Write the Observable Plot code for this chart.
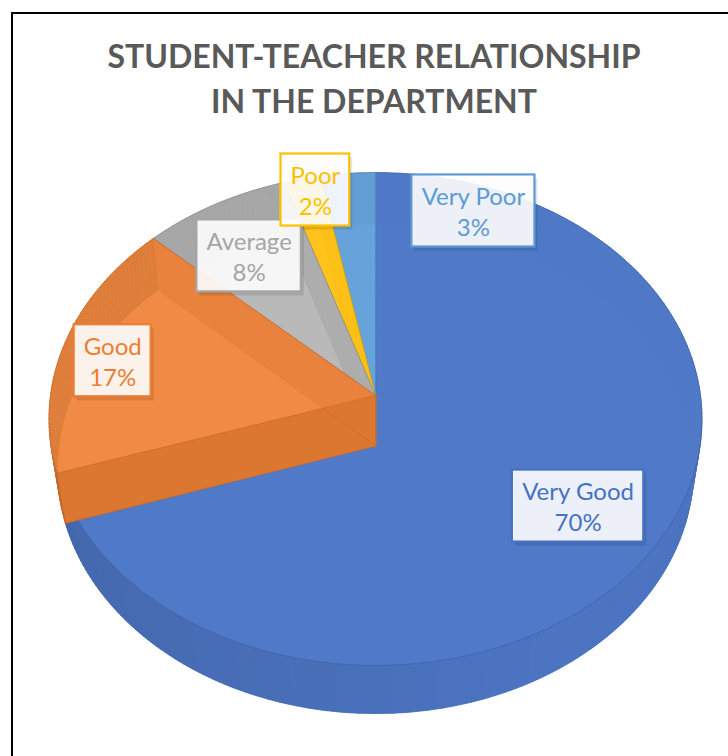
<!DOCTYPE html>
<html><head><meta charset="utf-8">
<script src="https://cdn.jsdelivr.net/npm/d3@7"></script>
<script src="https://cdn.jsdelivr.net/npm/@observablehq/plot@0.6"></script>
<style>
body{margin:0;background:#fff;}
#wrap{position:relative;width:728px;height:756px;overflow:hidden;background:#fff;}
#frame{position:absolute;left:11px;top:12px;width:800px;height:800px;border:2px solid #000;box-sizing:border-box;}
#chart{position:absolute;left:0;top:0;}
#title{position:absolute;left:0;top:33px;width:748px;text-align:center;font-family:Lato,sans-serif;font-weight:bold;font-size:32px;line-height:45px;color:#595959;}
</style></head>
<body>
<div id="wrap"><div id="frame"></div><div id="chart"></div>
<div id="title">STUDENT-TEACHER RELATIONSHIP<br>IN THE DEPARTMENT</div></div>
<script>
// ---- data ----
const categories = ["Very Good", "Good", "Average", "Poor", "Very Poor"];
const shares = [70, 17, 8, 2, 3];
const pctLabels = ["70%", "17%", "8%", "2%", "3%"];

// ---- styles / layout ----
const baseColors = ["#4472C4", "#ED7D31", "#A5A5A5", "#FFC000", "#5B9BD5"];
const topColors = ["#5079c6", "#f08b45", "#b9b9b9", "#ffc31c", "#66a3db"];
const wallColors = ["#4c74c1", "#dc7731", "#9c9c9c", "#eeb200", "#5590c8"];
const edgeColors = ["#36589e", "#c8671f", "#8a8a8a", "#d9a300", "#4a80b5"];
const topOpacity = [0.9, 0.6, 0.6, 0.8, 0.85];
const drawOrder = [0, 4, 3, 2, 1];
const labelShift = [[11, 6], [-44, 2], [-11, -3], [-7, -50], [118, -25]];

const W = 728, H = 756;
const cx = 375, cy = 395, F = 2249, D = 6.92, T = 0.242;
const tilt = 48.7 * Math.PI / 180, cs = Math.cos(tilt), sn = Math.sin(tilt);

function proj(r, aDeg, Y) {
  const a = aDeg * Math.PI / 180;
  const X = r * Math.sin(a), Z = -r * Math.cos(a);
  const depth = D - Y * sn - Z * cs;
  return {x: cx + F * X / depth, y: cy - F * (Y * cs - Z * sn) / depth};
}
function arc(a0, a1, Y) {
  const n = Math.max(2, Math.ceil(a1 - a0));
  return d3.range(n + 1).map(k => proj(1, a0 + (a1 - a0) * k / n, Y));
}
const total = d3.sum(shares);
let acc = 0;
const slices = categories.map((c, i) => {
  const a0 = acc / total * 360; acc += shares[i];
  const a1 = acc / total * 360;
  return {i, c, a0, a1, mid: (a0 + a1) / 2};
});

const apexT = proj(0, 0, 0), apexB = proj(0, 0, -T);
const marks = [];
for (const i of drawOrder) {
  const s = slices[i];
  const bottom = [apexB, ...arc(s.a0, s.a1, -T)].map(p => ({...p, g: "b"}));
  const quads = [];
  const steps = Math.max(2, Math.ceil(s.a1 - s.a0));
  for (let k = 0; k < steps; k++) {
    const u0 = s.a0 + (s.a1 - s.a0) * k / steps, u1 = s.a0 + (s.a1 - s.a0) * (k + 1) / steps;
    const m = (u0 + u1) / 2;
    const t = Math.max(0, Math.min(1, (m - 150) / 110));
    const f = d3.interpolateRgb(wallColors[i], d3.color(wallColors[i]).darker(0.35))(t);
    for (const p of [proj(1, u0, 0), proj(1, u1, 0), proj(1, u1, -T), proj(1, u0, -T)]) quads.push({...p, g: k, f});
  }
  const radial = [];
  for (const a of [s.a0, s.a1]) {
    for (const p of [apexT, proj(1, a, 0), proj(1, a, -T), apexB]) radial.push({...p, g: a});
  }
  const top = [apexT, ...arc(s.a0, s.a1, 0)].map(p => ({...p, g: "t"}));
  marks.push(Plot.line(bottom, {x: "x", y: "y", z: "g", fill: topColors[i], stroke: edgeColors[i], strokeWidth: 0.6, strokeOpacity: 0.5, curve: "linear-closed"}));
  marks.push(Plot.line(quads, {x: "x", y: "y", z: "g", fill: "f", stroke: "f", strokeWidth: 0.6, curve: "linear-closed"}));
  marks.push(Plot.line(radial, {x: "x", y: "y", z: "g", fill: wallColors[i], stroke: edgeColors[i], strokeWidth: 0.8, strokeOpacity: 0.7, curve: "linear-closed"}));
  marks.push(Plot.line(top, {x: "x", y: "y", z: "g", fill: topColors[i], fillOpacity: topOpacity[i], stroke: edgeColors[i], strokeWidth: 0.8, strokeOpacity: 0.6, curve: "linear-closed"}));
}

// ---- labels ----
const fontSize = 24, lineH = 31;
const ctx = document.createElement("canvas").getContext("2d");
ctx.font = `${fontSize}px Lato`;
const labels = slices.map(s => {
  const p = proj(0.7, s.mid, 0);
  const x = p.x + labelShift[s.i][0], y = p.y + labelShift[s.i][1];
  const w = Math.max(ctx.measureText(s.c).width, ctx.measureText(pctLabels[s.i]).width) + 19;
  const h = 72;
  return {x, y, x1: x - w / 2, x2: x + w / 2, y1: y - h / 2, y2: y + h / 2,
    text: s.c + "\n" + pctLabels[s.i], color: baseColors[s.i]};
});
marks.push(Plot.rect(labels, {x1: d => d.x1 + 3, x2: d => d.x2 + 3, y1: d => d.y1 + 4, y2: d => d.y2 + 4, fill: "#000", fillOpacity: 0.1}));
marks.push(Plot.rect(labels, {x1: "x1", x2: "x2", y1: "y1", y2: "y2", fill: "#fff", fillOpacity: 0.9, stroke: "color", strokeWidth: 2.2}));
marks.push(Plot.text(labels, {x: "x", y: "y", text: "text", fill: "color", fontSize, lineHeight: lineH / fontSize, fontFamily: "Lato"}));

const chart = Plot.plot({
  width: W, height: H, margin: 0,
  x: {domain: [0, W], range: [0, W], axis: null},
  y: {domain: [0, H], range: [0, H], axis: null},
  color: {type: "identity"},
  style: {background: "transparent", fontFamily: "Lato"},
  marks
});
document.getElementById("chart").appendChild(chart);
</script>
</body></html>
